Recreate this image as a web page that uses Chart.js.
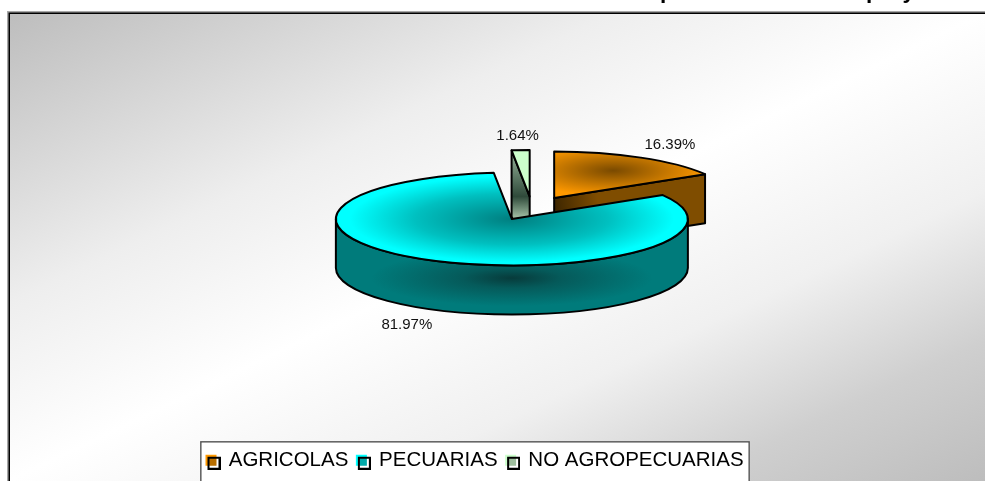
<!DOCTYPE html>
<html>
<head>
<meta charset="utf-8">
<style>html,body{margin:0;padding:0;background:#fff;overflow:hidden}canvas{display:block}</style>
<script src="https://cdn.jsdelivr.net/npm/chart.js@4/dist/chart.umd.min.js"></script>
</head>
<body>
<canvas id="c" width="985" height="481"></canvas>
<script>
const categories = ['AGRICOLAS', 'PECUARIAS', 'NO AGROPECUARIAS'];
const projectCounts = [10, 50, 1];
const chartTitle = 'Actividades productivas de los proyectos';

const PIE_Y = 208.4, TILT = 0.264, DEPTH = 49, LABEL_R = 280;
const sliceStyles = [
  {top:['#7a4a00','#c07400','#ff9900'], topR:[0,.5,.95], topC:.68, topRadius:100, side:['#3a2400','#7f4d00'], wall:'#5a3600', faceDepth:DEPTH},
  {top:['#007f80','#00c0c0','#00ffff'], topR:[0,.55,.92], topC:0, topRadius:176, side:['#073b3b','#007b7b'], wall:'#055a5a', faceDepth:DEPTH},
  {top:['#ccffcc','#ccffcc','#ccffcc'], topR:[0,.5,1], topC:.5, topRadius:176, side:['#2f4a3a','#9ab89e'], wall:'#5a7a60', faceDepth:66}
];
const legendInk = [['#ff9900','#b86e00'],['#00ffff','#00a8a8'],['#ccffcc','#9dbd9d']];

function marker(bright, dark){
  const m = document.createElement('canvas'); m.width = 17; m.height = 18;
  const g = m.getContext('2d');
  g.fillStyle = bright; g.fillRect(2,3,11,11);
  g.fillStyle = '#fff'; g.fillRect(4,5,13,13);
  g.fillStyle = dark; g.fillRect(4,5,9,9);
  g.strokeStyle = '#000'; g.lineWidth = 2; g.strokeRect(5,6,11,11);
  return m;
}
const markers = legendInk.map(p => marker(p[0], p[1]));

const backdrop = {
  id:'backdrop',
  beforeDraw(chart){
    const ctx = chart.ctx, W = chart.width, H = chart.height;
    ctx.save();
    ctx.fillStyle = '#fff'; ctx.fillRect(0,0,W,H);
    // title clipped by the top of the picture: only its descenders show
    ctx.fillStyle = '#000';
    ctx.font = 'bold 22.6px "Liberation Sans", Arial, sans-serif';
    ctx.textBaseline = 'alphabetic'; ctx.textAlign = 'right';
    ctx.fillText(chartTitle, 974, -2);
    const x0 = 9, y0 = 13, bw = W - x0, bh = H - y0;
    const len = Math.hypot(bw,bh), dx = bh/len, dy = bw/len;
    const half = (bw*dx + bh*dy)/2, cx = x0+bw/2, cy = y0+bh/2;
    const gr = ctx.createLinearGradient(cx-dx*half, cy-dy*half, cx+dx*half, cy+dy*half);
    gr.addColorStop(0,'#bdbdbd'); gr.addColorStop(.31,'#eeeeee'); gr.addColorStop(.5,'#ffffff');
    gr.addColorStop(.69,'#f0f0f0'); gr.addColorStop(.85,'#cfcfcf'); gr.addColorStop(1,'#bdbdbd');
    ctx.fillStyle = '#a8a8a8'; ctx.fillRect(7,11,W-7,H-11);
    ctx.fillStyle = '#000'; ctx.fillRect(8.5,12.5,W,H);
    ctx.fillStyle = gr; ctx.fillRect(10,14,W,H);
    // legend box
    ctx.fillStyle = '#8a8a8a'; ctx.fillRect(200,441,550,H);
    ctx.fillStyle = '#444'; ctx.fillRect(200.5,441.5,549,H);
    ctx.fillStyle = '#fff'; ctx.fillRect(201.5,442.5,547,H);
    ctx.restore();
  }
};

function drawSlice(ctx, arc, style){
  const p = arc.getProps(['x','startAngle','endAngle','outerRadius'], true);
  const a0 = p.startAngle, a1 = p.endAngle, R = p.outerRadius;
  const shift = arc.options.offset/4, mid = (a0+a1)/2;
  const ax = p.x + Math.cos(mid)*shift, ay = PIE_Y + Math.sin(mid)*shift*TILT;
  const rim = (a,d) => [ax+R*Math.cos(a), ay+R*TILT*Math.sin(a)+d];
  const ink = () => { ctx.strokeStyle = '#000'; ctx.lineWidth = 2; ctx.lineJoin = 'round'; ctx.stroke(); };

  const face = a => {
    const o = rim(a,0), od = rim(a,style.faceDepth);
    ctx.beginPath(); ctx.moveTo(o[0],o[1]); ctx.lineTo(ax,ay); ctx.lineTo(ax,ay+style.faceDepth);
    ctx.lineTo(od[0],od[1]); ctx.closePath();
    let g;
    if (style.faceDepth !== DEPTH){
      g = ctx.createLinearGradient(0,o[1],0,o[1]+style.faceDepth);
      g.addColorStop(0,style.side[1]); g.addColorStop(.7,style.side[0]); g.addColorStop(1,style.side[1]);
    } else {
      g = ctx.createLinearGradient(ax,ay+20,o[0],o[1]+20);
      g.addColorStop(0,style.side[0]); g.addColorStop(.3,style.side[1]); g.addColorStop(1,style.side[1]);
    }
    ctx.fillStyle = g;
    ctx.fill(); ink();
  };
  if (-Math.cos(a0) > 1e-6) face(a0);
  if (Math.cos(a1) > 1e-6) face(a1);

  const lo = Math.max(a0,0), hi = Math.min(a1,Math.PI);
  if (lo < hi){
    ctx.save();
    ctx.translate(ax,ay); ctx.scale(1,TILT);
    ctx.beginPath(); ctx.arc(0,0,R,lo,hi,false); ctx.arc(0,DEPTH/TILT,R,hi,lo,true); ctx.closePath();
    ctx.restore();
    ctx.save();
    ctx.translate(ax,ay+DEPTH+10); ctx.scale(1,.2);
    const g = ctx.createRadialGradient(0,0,0,0,0,R*.8);
    g.addColorStop(0,style.side[0]); g.addColorStop(.35,style.wall); g.addColorStop(1,style.side[1]);
    ctx.fillStyle = g; ctx.fill();
    ctx.restore();
    ink();
  }

  ctx.save();
  ctx.translate(ax,ay); ctx.scale(1,TILT);
  ctx.beginPath(); ctx.moveTo(0,0); ctx.arc(0,0,R,a0,a1,false); ctx.closePath();
  const c = style.topC*R, gx = Math.cos(mid)*c, gy = Math.sin(mid)*c;
  const g = ctx.createRadialGradient(gx,gy,0,gx,gy,style.topRadius);
  style.top.forEach((col,i)=>g.addColorStop(style.topR[i],col));
  ctx.fillStyle = g; ctx.fill();
  ctx.restore();
  ink();
}

const pie3d = {
  id:'pie3d',
  beforeDatasetDraw(chart, args){
    const ctx = chart.ctx, arcs = args.meta.data;
    const order = arcs.map((a,i)=>i).sort((i,j)=>{
      const m = k => Math.sin((arcs[k].startAngle+arcs[k].endAngle)/2);
      return m(i)-m(j);
    });
    ctx.save();
    order.forEach(i => drawSlice(ctx, arcs[i], sliceStyles[i]));
    ctx.restore();
    return false;
  },
  afterDatasetsDraw(chart){
    const ctx = chart.ctx, arcs = chart.getDatasetMeta(0).data;
    const total = projectCounts.reduce((s,v)=>s+v,0);
    ctx.save();
    ctx.fillStyle = '#111';
    ctx.font = '15px "Liberation Sans", Arial, sans-serif';
    ctx.textAlign = 'center'; ctx.textBaseline = 'middle';
    arcs.forEach((arc,i)=>{
      const mid = (arc.startAngle+arc.endAngle)/2, s = Math.sin(mid);
      const x = arc.x + Math.cos(mid)*LABEL_R;
      const y = PIE_Y + s*LABEL_R*TILT + (s>0?DEPTH:0) + 1;
      ctx.fillText((projectCounts[i]/total*100).toFixed(2)+'%', x, y);
    });
    ctx.restore();
  }
};

new Chart(document.getElementById('c'), {
  type:'pie',
  data:{ labels:categories, datasets:[{ data:projectCounts, radius:176, offset:180, borderWidth:0 }] },
  plugins:[backdrop, pie3d],
  options:{
    responsive:false, animation:false, events:[],
    layout:{ padding:{left:198, right:119, top:0, bottom:0} },
    plugins:{
      tooltip:{enabled:false}, title:{display:false},
      legend:{
        position:'bottom', align:'start',
        labels:{
          usePointStyle:true, pointStyleWidth:13, padding:7.5, color:'#000',
          font:{family:'"Liberation Sans", Arial, sans-serif', size:20.5},
          generateLabels:()=>categories.map((t,i)=>({text:t, index:i, hidden:false, pointStyle:markers[i], fillStyle:legendInk[i][0], strokeStyle:'#000', lineWidth:0, fontColor:'#000'}))
        }
      }
    }
  }
});
</script>
</body>
</html>
